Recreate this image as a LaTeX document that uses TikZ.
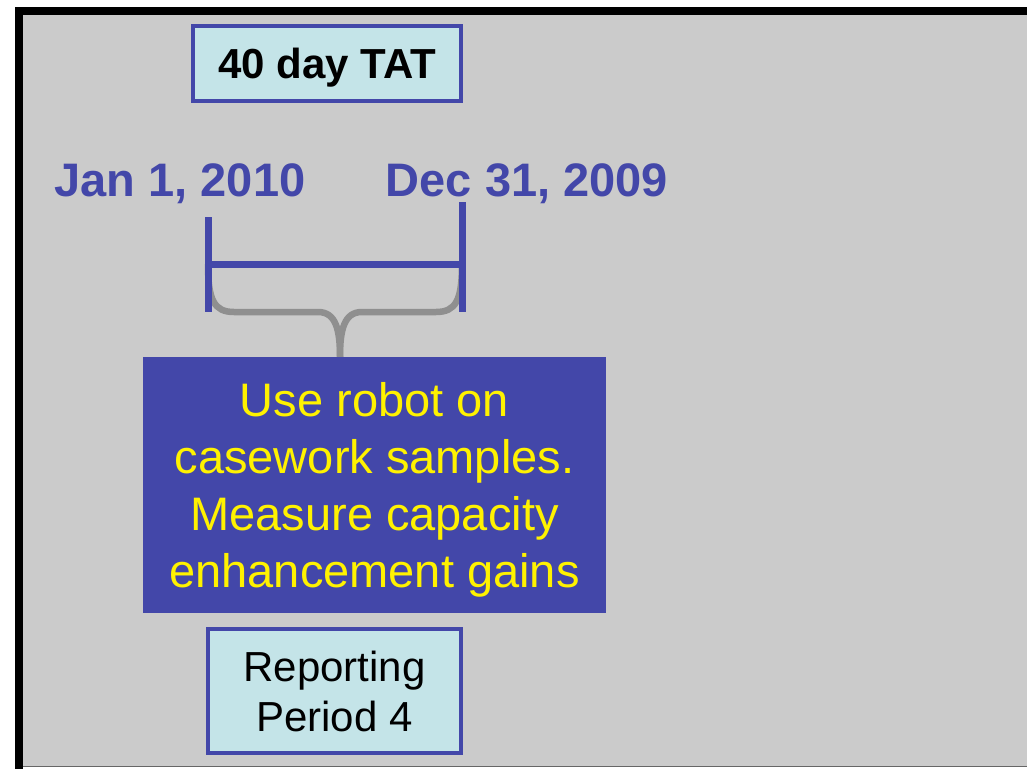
\documentclass[tikz,border=0pt]{standalone}
\usepackage{fontspec}
\setmainfont{Liberation Sans}
\usetikzlibrary{positioning}
\definecolor{tatblue}{RGB}{67,71,169}
\definecolor{paleteal}{RGB}{196,228,232}
\definecolor{slidegray}{RGB}{203,203,203}
\definecolor{bracegray}{RGB}{143,143,143}

\begin{document}
\begin{tikzpicture}[x=1pt,y=-1pt,
    tagbox/.style={draw=tatblue,line width=4pt,fill=paleteal,inner sep=0pt,text depth=0pt},
    datelbl/.style={text=tatblue,font=\fontsize{47}{56}\selectfont\bfseries,anchor=base,inner sep=0pt},
    tick/.style={tatblue,line width=7pt}]
    \useasboundingbox (0,0) rectangle (1027,768);
    % slide frame
    \fill[slidegray] (19,11) rectangle (1040,767);
    \draw[line width=8pt] (19,772) -- (19,11) -- (1040,11);
    \draw[black!60,line width=1pt] (23,766.5) -- (1027,766.5);

    \node[tagbox,minimum width=268pt,minimum height=75pt,
          font=\fontsize{42}{50}\selectfont\bfseries,text height=30pt] (tat) at (327,63.5) {40 day TAT};

    \node[datelbl] (jan) at (180,196) {Jan 1, 2010};
    \node[datelbl] (dec) at (527,196) {Dec 31, 2009};

    \coordinate (jtop) at (208,217);
    \coordinate (jmid) at (208,264);
    \coordinate (jbot) at (208,312);
    \coordinate (dtop) at (462,202);
    \coordinate (dmid) at (462,264);
    \coordinate (dbot) at (462,312);
    \coordinate (tip) at (340,357);

    % brace
    \draw[bracegray,line width=6.5pt]
      (jmid) .. controls (208,300) and (214,312) .. (234,312) -- (318,312)
      .. controls (336,312) and (340,330) .. (tip);
    \draw[bracegray,line width=6.5pt]
      (tip) .. controls (340,330) and (344,312) .. (362,312) -- (436,312)
      .. controls (456,312) and (462,300) .. (dmid);

    \draw[tick] (jtop) -- (jbot);
    \draw[tick] (dtop) -- (dbot);
    \draw[tick] (jmid) -- (dmid);

    \node[fill=tatblue,minimum width=463pt,minimum height=256pt,inner sep=0pt,
          text=yellow,align=center,text depth=0pt,
          font=\fontsize{47}{57}\selectfont] (task) at (374.5,485)
      {Use robot on\\casework samples.\\Measure capacity\\enhancement gains};

    \node[tagbox,minimum width=253pt,minimum height=124pt,align=center,
          font=\fontsize{42}{50}\selectfont] (period) at (334.5,691) {Reporting\\Period 4};
\end{tikzpicture}
\end{document}
